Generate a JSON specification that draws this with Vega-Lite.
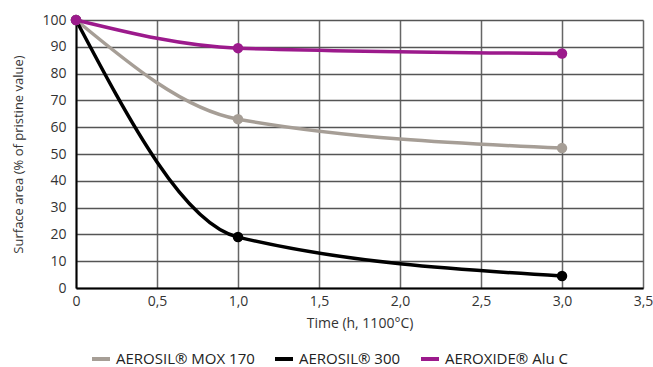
{
  "$schema": "https://vega.github.io/schema/vega-lite/v6.json",
  "width": 567,
  "height": 268,
  "autosize": {"type": "none"},
  "padding": {"left": 76, "top": 20, "right": 10, "bottom": 79},
  "background": "white",
  "config": {
    "view": {"stroke": null},
    "font": "Open Sans",
    "axis": {"labelFont": "Open Sans", "titleFont": "Open Sans", "labelColor": "#333", "titleColor": "#333", "titleFontWeight": "normal"}
  },
  "data": {
    "values": [
      {"series": "AEROSIL® MOX 170", "time": 0, "value": 100},
      {"series": "AEROSIL® MOX 170", "time": 1, "value": 63},
      {"series": "AEROSIL® MOX 170", "time": 3, "value": 52.2},
      {"series": "AEROSIL® 300", "time": 0, "value": 100},
      {"series": "AEROSIL® 300", "time": 1, "value": 19},
      {"series": "AEROSIL® 300", "time": 3, "value": 4.5},
      {"series": "AEROXIDE® Alu C", "time": 0, "value": 100},
      {"series": "AEROXIDE® Alu C", "time": 1, "value": 89.5},
      {"series": "AEROXIDE® Alu C", "time": 3, "value": 87.5}
    ]
  },
  "encoding": {
    "x": {
      "field": "time", "type": "quantitative",
      "scale": {"domain": [0, 3.5], "nice": false},
      "axis": {
        "values": [0, 0.5, 1, 1.5, 2, 2.5, 3, 3.5],
        "labelExpr": "datum.value == 0 ? '0' : replace(format(datum.value, '.1f'), '.', ',')",
        "labelFlush": false,
        "title": "Time (h, 1100°C)",
        "titleFontSize": 14, "titlePadding": 8,
        "labelFontSize": 14, "labelPadding": 6,
        "ticks": false,
        "domainColor": "#000", "domainWidth": 2,
        "grid": true, "gridColor": "#666", "gridWidth": 1.5
      }
    },
    "y": {
      "field": "value", "type": "quantitative",
      "scale": {"domain": [0, 100], "nice": false},
      "axis": {
        "values": [0, 10, 20, 30, 40, 50, 60, 70, 80, 90, 100],
        "title": "Surface area (% of pristine value)",
        "titleFontSize": 13, "titlePadding": 16,
        "labelFontSize": 14, "labelPadding": 10,
        "ticks": false,
        "domainColor": "#000", "domainWidth": 2,
        "grid": true, "gridColor": "#555", "gridWidth": 1.5
      }
    },
    "color": {
      "field": "series", "type": "nominal",
      "scale": {
        "domain": ["AEROSIL® MOX 170", "AEROSIL® 300", "AEROXIDE® Alu C"],
        "range": ["#A69E96", "#000000", "#9C1A8C"]
      },
      "legend": {
        "orient": "none", "legendX": 14, "legendY": 328, "direction": "horizontal", "title": null,
        "symbolType": "stroke", "symbolStrokeWidth": 4, "symbolSize": 324,
        "labelFontSize": 15, "labelColor": "#222", "labelFont": "Open Sans",
        "columnPadding": 12
      }
    },
    "order": {"field": "series"}
  },
  "layer": [
    {"mark": {"type": "line", "interpolate": "monotone", "strokeWidth": 3.5}},
    {"mark": {"type": "point", "filled": true, "opacity": 1, "size": 110}}
  ]
}
